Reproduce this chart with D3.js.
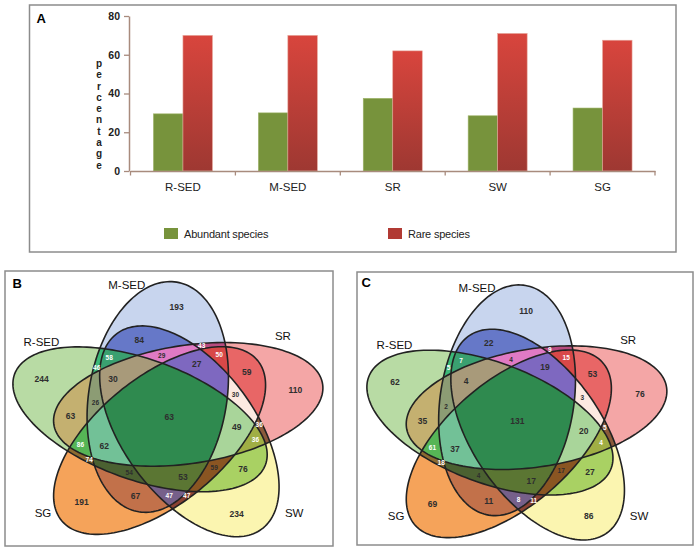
<!DOCTYPE html>
<html><head><meta charset="utf-8">
<script src="https://cdn.jsdelivr.net/npm/d3@7"></script>
<style>body{margin:0;background:#fff}svg{display:block}text{font-family:"Liberation Sans",Arial,sans-serif}</style>
</head><body><svg id="c" width="698" height="551"></svg>
<script>
// ---------- data ----------
const categories = ["R-SED","M-SED","SR","SW","SG"];
const abundantPct = [29.5, 30, 37.5, 28.5, 32.5];
const rarePct = [70, 70, 62, 71, 67.5];
const seriesNames = ["Abundant species","Rare species"];
const yTickValues = [0,20,40,60,80];
const setNames = ["R-SED","M-SED","SR","SW","SG"];
const setKeys = ["R","M","S","W","G"];
const regionKeys = ["R","M","S","W","G","RM","RS","RW","RG","MS","MW","MG","SW","SG","WG",
  "RMS","RMW","RMG","RSW","RSG","RWG","MSW","MSG","MWG","SWG","RMSW","RMSG","RMWG","RSWG","MSWG","RMSWG"];
const countsB = [244,193,110,234,191,46,63,76,74,43,84,67,36,59,47,26,58,54,36,86,59,29,50,47,30,30,62,53,49,27,63];
const countsC = [62,110,76,86,69,5,35,27,18,9,22,11,5,53,11,2,7,4,4,61,17,4,15,8,3,4,37,17,20,19,131];

// ---------- layout / style ----------
const svg = d3.select("#c");
const brown = "#a88b7d";
const defs = svg.append("defs");
const rg = defs.append("linearGradient").attr("id","redGrad").attr("x1",0).attr("y1",0).attr("x2",0).attr("y2",1);
rg.append("stop").attr("offset","0%").attr("stop-color","#d8453d");
rg.append("stop").attr("offset","100%").attr("stop-color","#9e3832");
const barColors = {"Abundant species":"#77933c","Rare species":"url(#redGrad)"};

// Panel A
svg.append("rect").attr("x",29.5).attr("y",5).attr("width",646.5).attr("height",247)
  .attr("fill","none").attr("stroke","#8c8c8c").attr("stroke-width",1.5);
svg.append("text").attr("x",36.5).attr("y",23.3).attr("font-size",13).attr("font-weight","bold").text("A");

const x = d3.scaleBand().domain(categories).range([130.5,655]);
const xs = d3.scaleBand().domain(seriesNames).range([-29.5,29.5]);
const y = d3.scaleLinear().domain([0,80]).range([171,16]);

const bars = svg.append("g");
categories.forEach((c,i)=>{
  const vals = [abundantPct[i], rarePct[i]];
  seriesNames.forEach((s,j)=>{
    bars.append("rect")
      .attr("x", x(c)+x.bandwidth()/2 + xs(s))
      .attr("width", xs.bandwidth())
      .attr("y", y(vals[j]))
      .attr("height", y(0)-y(vals[j]))
      .attr("fill", barColors[s])
      .attr("stroke", j? "#e7a79c":"#9fb46a").attr("stroke-width",0.6);
  });
});

const yAx = svg.append("g").attr("transform","translate(129,0)")
  .call(d3.axisLeft(y).tickValues(yTickValues).tickSize(5).tickSizeOuter(0).tickPadding(4));
yAx.select(".domain").attr("stroke",brown).attr("stroke-width",1.5);
yAx.selectAll(".tick line").attr("stroke",brown).attr("stroke-width",1.3);
yAx.selectAll("text").attr("font-size",10.5).attr("font-weight","bold").attr("fill","#222")
  .attr("font-family","Liberation Sans, Arial, sans-serif");

const xAx = svg.append("g").attr("transform","translate(0,171)")
  .call(d3.axisBottom(x).tickSize(0).tickPadding(12));
xAx.select(".domain").attr("stroke",brown).attr("stroke-width",1.5);
xAx.selectAll("text").attr("font-size",11.5).attr("fill","#222").attr("font-family","Liberation Sans, Arial, sans-serif");
const bounds = categories.map(c=>x(c)).concat([x.range()[1]]);
svg.append("g").selectAll("line").data(bounds).join("line")
  .attr("x1",d=>d).attr("x2",d=>d).attr("y1",171).attr("y2",175.5)
  .attr("stroke",brown).attr("stroke-width",1.3);

svg.append("text").attr("x",99).attr("y",58).attr("font-size",10).attr("font-weight","bold").attr("fill","#222")
  .style("writing-mode","vertical-rl").style("text-orientation","upright").attr("letter-spacing",0.3)
  .text("percentage");

const legX = {"Abundant species":164,"Rare species":388};
seriesNames.forEach((s,j)=>{
  svg.append("rect").attr("x",legX[s]).attr("y",228).attr("width",14).attr("height",11)
    .attr("fill", j? "#b13a34":"#77933c");
  svg.append("text").attr("x",legX[s]+20).attr("y",237.5).attr("font-size",11).attr("fill","#222")
    .attr("letter-spacing",-0.2).text(s);
});

// ---------- Venn panels ----------
const venn = {d:0.2226, shift:-0.06, a:0.43, b:0.848, tilt:20, angles:{R:-85,M:-13,S:59,W:131,G:203}};
const regionColor = {R:"#b8dba4",M:"#c8d5ee",S:"#f4a6a6",W:"#fbf5b0",G:"#f5a35a",
  MW:"#6678c8",RM:"#3cb878",RMW:"#3aa070",MSW:"#e07ac4",MS:"#b84c80",MSG:"#d84848",SG:"#e86666",
  RMSW:"#a89a7a",MSWG:"#7e68c0",RMS:"#8c9c74",RS:"#c4b070",RMSWG:"#2f8a4f",SWG:"#fce9e1",
  RMSG:"#72c197",RSWG:"#a9d59a",RSG:"#56b556",RG:"#8b6a30",SW:"#8b5a3a",RSW:"#a0ae44",
  RMG:"#4b6131",RMWG:"#5b7633",RWG:"#8a5522",RW:"#a9d163",MG:"#c2714a",MWG:"#76608a",WG:"#8a4232"};
const whiteText = new Set(["RM","RMW","MS","MSG","RSG","RG","SW","RSW","MWG","WG"]);

function ell(k){
  const gam = venn.angles[k]*Math.PI/180, phi=(venn.angles[k]+venn.tilt)*Math.PI/180;
  const u=[Math.sin(phi),-Math.cos(phi)], v=[Math.cos(phi),Math.sin(phi)];
  const c=[venn.d*Math.sin(gam)+venn.shift*u[0], -venn.d*Math.cos(gam)+venn.shift*u[1]];
  const pts = d3.range(0,360,2).map(t=>{const r=t*Math.PI/180;
    return [c[0]+venn.b*Math.cos(r)*u[0]+venn.a*Math.sin(r)*v[0], c[1]+venn.b*Math.cos(r)*u[1]+venn.a*Math.sin(r)*v[1]];});
  return {c,u,v,pts};
}
const E = setKeys.map(ell);
const keyToMask = k => setKeys.reduce((m,s,i)=>k.includes(s)?m|(1<<i):m,0);

function drawPanel(id, frame, letter, cx, cy, kx, ky, labelPos, counts){
  const g = svg.append("g");
  g.append("rect").attr("x",frame[0]).attr("y",frame[1]).attr("width",frame[2]).attr("height",frame[3])
    .attr("fill","#fff").attr("stroke","#8c8c8c").attr("stroke-width",1.5);
  g.append("text").attr("x",letter[0]).attr("y",letter[1]).attr("font-size",13).attr("font-weight","bold").text(letter[2]);
  const vx = d3.scaleLinear().domain([-1,1]).range([cx-kx,cx+kx]);
  const vy = d3.scaleLinear().domain([-1,1]).range([cy-ky,cy+ky]);
  const line = d3.line().x(p=>vx(p[0])).y(p=>vy(p[1])).curve(d3.curveLinearClosed);
  E.forEach((e,i)=>{
    const dd=line(e.pts);
    defs.append("clipPath").attr("id",`cp${id}${i}`).append("path").attr("d",dd);
    const mk=defs.append("mask").attr("id",`mk${id}${i}`).attr("maskUnits","userSpaceOnUse")
      .attr("x",0).attr("y",0).attr("width",698).attr("height",551);
    mk.append("rect").attr("width",698).attr("height",551).attr("fill","#fff");
    mk.append("path").attr("d",dd).attr("fill","#000");
  });
  regionKeys.forEach(k=>{
    const m = keyToMask(k);
    let gg=g;
    for(let i=0;i<5;i++){
      gg = gg.append("g").attr(m&(1<<i)?"clip-path":"mask", m&(1<<i)?`url(#cp${id}${i})`:`url(#mk${id}${i})`);
    }
    gg.append("rect").attr("x",frame[0]).attr("y",frame[1]).attr("width",frame[2]).attr("height",frame[3])
      .attr("fill",regionColor[k]);
  });
  E.forEach(e=>g.append("path").attr("d",line(e.pts)).attr("fill","none").attr("stroke","#222").attr("stroke-width",1.6));
  // label spots: deepest sample point inside each region
  const best = {};
  for(let X=cx-1.05*kx; X<=cx+1.05*kx; X+=1.25){
    for(let Y=cy-1.05*ky; Y<=cy+1.05*ky; Y+=1.25){
      const ux=vx.invert(X), uy=vy.invert(Y);
      let m=0, depth=1e9;
      E.forEach((e,i)=>{
        const dx=ux-e.c[0], dy=uy-e.c[1];
        const pu=dx*e.u[0]+dy*e.u[1], pv=dx*e.v[0]+dy*e.v[1];
        const q=Math.sqrt((pu/venn.b)**2+(pv/venn.a)**2);
        if(q<1) m|=(1<<i);
        const gx=(pu/venn.b**2*e.u[0]+pv/venn.a**2*e.v[0])/q, gy=(pu/venn.b**2*e.u[1]+pv/venn.a**2*e.v[1])/q;
        const gp=Math.hypot(gx/kx*2, gy/ky*2);
        depth=Math.min(depth, Math.abs(q-1)/gp);
      });
      if(m && (!best[m] || depth>best[m].d)) best[m]={x:X,y:Y,d:depth};
    }
  }
  regionKeys.forEach((k,i)=>{
    const b = best[keyToMask(k)]; if(!b) return;
    g.append("text").attr("x",b.x).attr("y",b.y).attr("text-anchor","middle").attr("dy","0.35em")
      .attr("font-family","DejaVu Sans, sans-serif").attr("font-size", b.d<5?6.5:8.5).attr("font-weight","bold")
      .attr("fill", whiteText.has(k)?"#fff":"#2e2e2e").text(counts[i]);
  });
  setNames.forEach((s,i)=>{
    g.append("text").attr("x",vx(labelPos[i][0])).attr("y",vy(labelPos[i][1])).attr("text-anchor","middle").attr("dy","0.35em")
      .attr("font-size",11.5).attr("fill","#111").text(s);
  });
}
const labPos = [[-0.78,-0.56],[-0.25,-0.975],[0.72,-0.6],[0.79,0.69],[-0.77,0.69]];
drawPanel("B",[5,271,328,275],[12.5,288.3,"B"],167,418.5,161,136.8,labPos,countsB);
drawPanel("C",[357,272,336,273],[361.5,287.3,"C"],516,421.8,155.8,136.8,labPos,countsC);
</script></body></html>
